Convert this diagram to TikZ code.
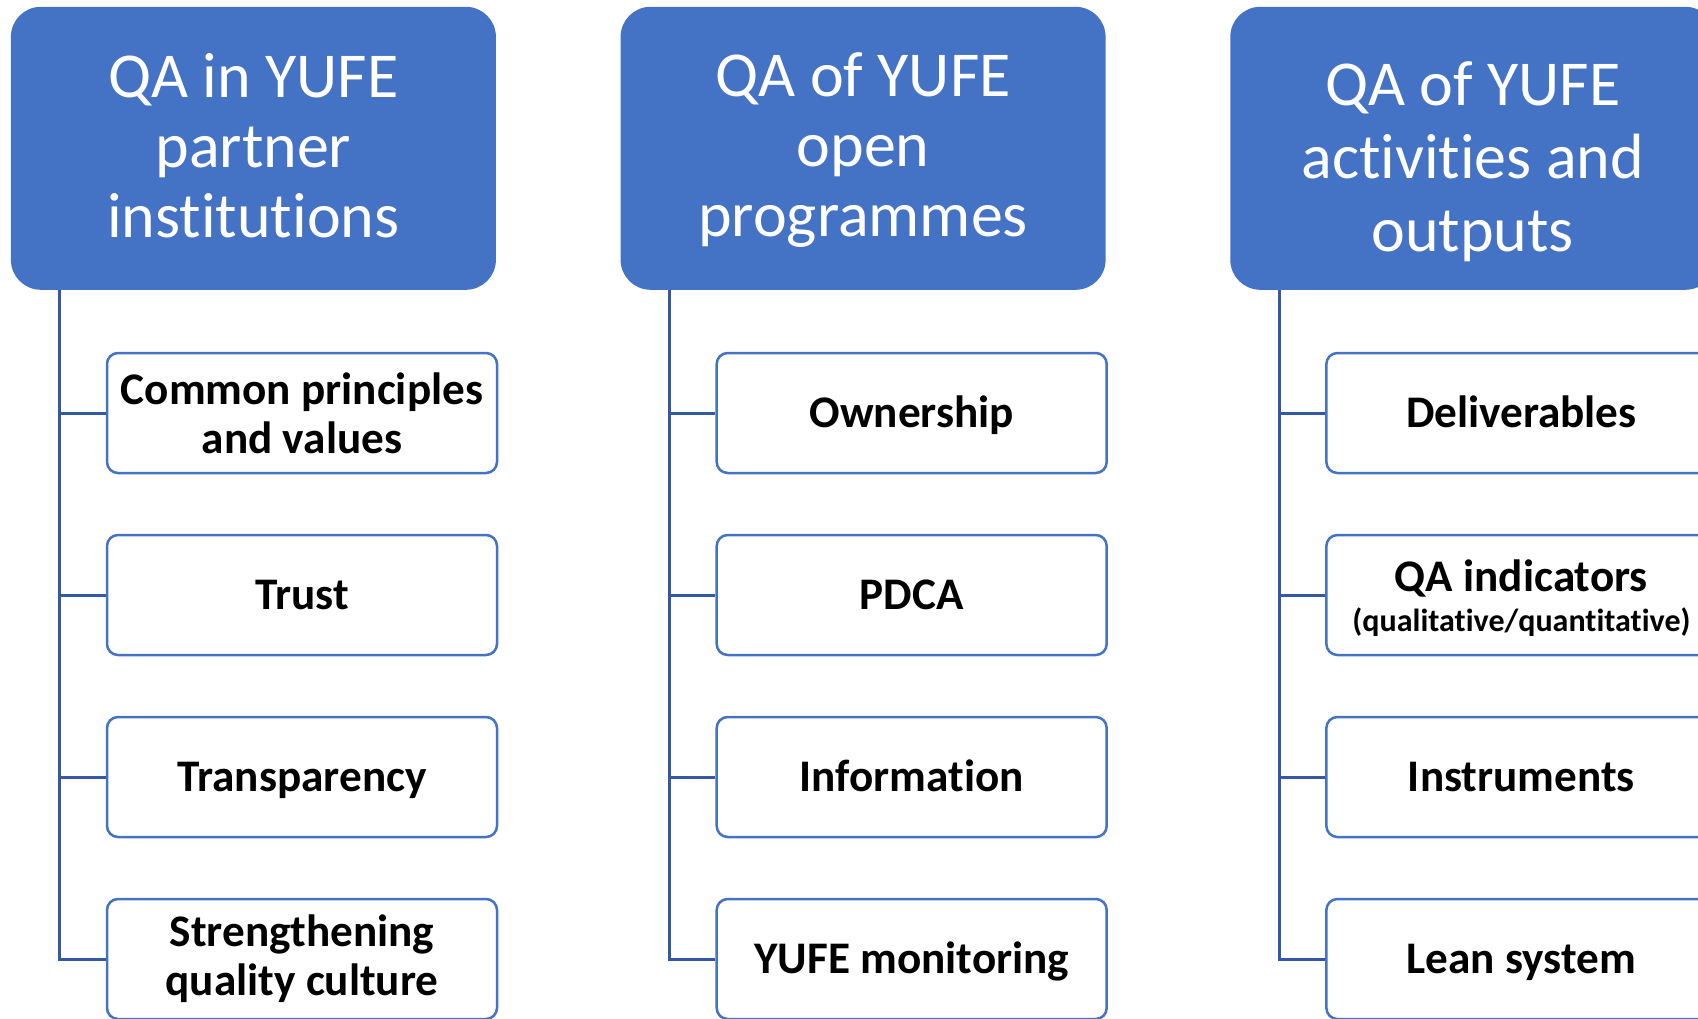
\documentclass[tikz,border=0pt]{standalone}
\usepackage{fontspec}
\setmainfont{Carlito}[Ligatures=NoCommon]
\definecolor{hdrblue}{RGB}{68,114,196}
\definecolor{linkblue}{RGB}{52,88,164}
\begin{document}
\begin{tikzpicture}[x=1pt,y=-1pt,
  hdr/.style={fill=hdrblue, rounded corners=30pt, minimum width=485pt, minimum height=283pt,
    inner sep=0pt},
  hdrtext/.style={text=white, align=center, font=\fontsize{64}{70}\selectfont, inner sep=0pt},
  item/.style={draw=hdrblue, line width=2.5pt, fill=white, rounded corners=11pt,
    minimum width=390pt, minimum height=120pt, align=center,
    font=\bfseries\fontsize{45.2}{49}\selectfont, inner sep=0pt},
  itemtext/.style={align=center, font=\bfseries\fontsize{45.2}{49}\selectfont, inner sep=0pt},
  one/.style={text height=29pt, text depth=0pt},
  link/.style={draw=linkblue, line width=3pt}]
\useasboundingbox (0,0) rectangle (1698,1018);

% column 1
\node[hdr] (h1) at (253.4,148.3) {};
\node[hdrtext] (h1t) at ([yshift=2.2pt]h1.center) {QA in YUFE\\partner\\institutions};
\coordinate (v1) at (59.6,290);
\node[item] (a1) at (302,413) {Common principles\\and values};
\node[item, one] (a2) at (302,595) {Trust};
\node[item, one] (a3) at (302,777) {Transparency};
\node[item] (a4) at (302,959) {Strengthening\\quality culture};
\draw[link] (v1) -- (v1 |- a4.west) -- (a4.west);
\foreach \k in {1,2,3} \draw[link] (v1 |- a\k.west) -- (a\k.west);

% column 2
\node[hdr] (h2) at (863.1,148.3) {};
\node[hdrtext] (h2t) at ([yshift=-2.1pt]h2.center) {QA of YUFE\\open\\programmes};
\coordinate (v2) at (669.3,290);
\node[item, one] (b1) at (911.7,413) {Ownership};
\node[item, one] (b2) at (911.7,595) {PDCA};
\node[item, one] (b3) at (911.7,777) {Information};
\node[item, one] (b4) at (911.7,959) {YUFE monitoring};
\draw[link] (v2) -- (v2 |- b4.west) -- (b4.west);
\foreach \k in {1,2,3} \draw[link] (v2 |- b\k.west) -- (b\k.west);

% column 3
\node[hdr] (h3) at (1472.8,148.3) {};
\node[hdrtext, font=\fontsize{64}{73}\selectfont] (h3t) at ([yshift=-13pt]h3.center)
  {QA of YUFE\\activities and\\outputs};
\coordinate (v3) at (1279,290);
\node[item, one] (c1) at (1521.4,413) {Deliverables};
\node[item] (c2) at (1521.4,595) {};
\node[itemtext] (c2t) at ([yshift=-3pt]c2.center)
  {QA indicators\\[-9pt]{\fontsize{32}{37}\selectfont(qualitative/quantitative)}};
\node[item, one] (c3) at (1521.4,777) {Instruments};
\node[item, one] (c4) at (1521.4,959) {Lean system};
\draw[link] (v3) -- (v3 |- c4.west) -- (c4.west);
\foreach \k in {1,2,3} \draw[link] (v3 |- c\k.west) -- (c\k.west);
\end{tikzpicture}
\end{document}
